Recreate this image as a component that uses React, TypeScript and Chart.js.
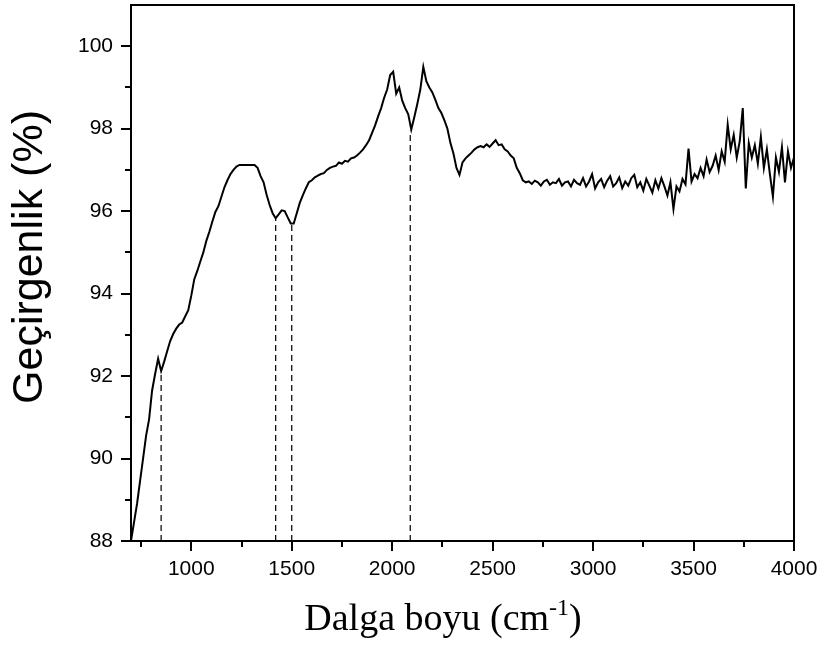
import React, { useEffect, useRef } from 'react';
import { Chart, registerables } from 'chart.js';

Chart.register(...registerables);

// Spectrum sampling grid (cm^-1)
const waveStart = 700;
const waveStep = 15;

// Transmittance (%), one value per grid point 700..4000
const transmittance: number[] = [
  88.0, 88.45, 88.9, 89.45, 90.0, 90.55, 90.95, 91.65, 92.05, 92.42,
  92.12, 92.35, 92.6, 92.85, 93.02, 93.15, 93.25, 93.3, 93.45, 93.6,
  93.95, 94.35, 94.55, 94.78, 95.0, 95.28, 95.5, 95.75, 95.98, 96.12,
  96.35, 96.58, 96.75, 96.9, 97.0, 97.08, 97.12, 97.12, 97.12, 97.12,
  97.12, 97.12, 97.05, 96.85, 96.7, 96.4, 96.15, 95.95, 95.83, 95.92,
  96.02, 96.0, 95.85, 95.7, 95.7, 95.95, 96.2, 96.38, 96.55, 96.7,
  96.75, 96.82, 96.86, 96.9, 96.92, 97.0, 97.05, 97.08, 97.1, 97.18,
  97.15, 97.22, 97.2, 97.28, 97.3, 97.35, 97.42, 97.5, 97.6, 97.72,
  97.9, 98.08, 98.3, 98.5, 98.75, 98.95, 99.3, 99.38, 98.85, 99.0,
  98.68, 98.5, 98.35, 97.98, 98.28, 98.6, 98.95, 99.5, 99.15, 99.0,
  98.88, 98.7, 98.5, 98.38, 98.2, 98.0, 97.65, 97.4, 97.05, 96.88,
  97.18, 97.28, 97.35, 97.42, 97.5, 97.55, 97.58, 97.55, 97.62, 97.56,
  97.64, 97.72, 97.6, 97.62, 97.5, 97.45, 97.35, 97.28, 97.05, 96.92,
  96.75, 96.7, 96.72, 96.66, 96.74, 96.7, 96.62, 96.72, 96.76, 96.64,
  96.7, 96.68, 96.78, 96.62, 96.7, 96.72, 96.6, 96.76, 96.68, 96.64,
  96.8, 96.6, 96.72, 96.9, 96.55, 96.7, 96.78, 96.58, 96.74, 96.85,
  96.6, 96.68, 96.82, 96.56, 96.72, 96.62, 96.8, 96.88, 96.58, 96.7,
  96.5, 96.78, 96.62, 96.45, 96.75, 96.55, 96.8, 96.6, 96.38, 96.7,
  96.05, 96.6, 96.48, 96.78, 96.65, 97.52, 96.72, 96.9, 96.8, 97.05,
  96.85, 97.25, 96.95, 97.1, 97.35, 97.0, 97.45, 97.2, 98.1, 97.5,
  97.85, 97.3, 97.7, 98.5, 96.55, 97.65, 97.3, 97.6, 97.15, 97.8,
  97.05, 97.5, 96.9, 96.35, 97.3, 96.95, 97.55, 96.7, 97.45, 97.05,
  97.3,
];
const wavenumbers = transmittance.map((_, i) => waveStart + i * waveStep);

// Dashed marker lines: position and the transmittance they reach up to
const markerPositions = [850, 1420, 1500, 2090];
const markerTops = [92.12, 95.83, 95.68, 97.95];

// Axes
const xMin = 700;
const xMax = 4000;
const yMin = 88;
const yMax = 101;
const xMajorTicks = [1000, 1500, 2000, 2500, 3000, 3500, 4000];
const xMinorTicks = [750, 1250, 1750, 2250, 2750, 3250, 3750];
const yMajorTicks = [88, 90, 92, 94, 96, 98, 100];
const yMinorTicks = [89, 91, 93, 95, 97, 99];

const xTitleMain = 'Dalga boyu (cm';
const xTitleSup = '-1';
const xTitleEnd = ')';
const yTitle = 'Geçirgenlik (%)';

const framePlugin = {
  id: 'frameAndTitles',
  afterDraw(chart: any) {
    const { ctx, chartArea: a, scales } = chart;
    ctx.save();
    ctx.strokeStyle = '#000';
    ctx.lineWidth = 2;
    ctx.strokeRect(a.left, a.top, a.right - a.left, a.bottom - a.top);
    ctx.beginPath();
    for (const v of xMinorTicks) {
      const px = Math.round(scales.x.getPixelForValue(v));
      ctx.moveTo(px, a.bottom);
      ctx.lineTo(px, a.bottom + 6);
    }
    for (const v of yMinorTicks) {
      const py = Math.round(scales.y.getPixelForValue(v));
      ctx.moveTo(a.left, py);
      ctx.lineTo(a.left - 6, py);
    }
    ctx.stroke();

    // x title with superscript
    ctx.fillStyle = '#000';
    ctx.textBaseline = 'alphabetic';
    ctx.textAlign = 'left';
    const mainFont = "38px 'Liberation Serif', 'Times New Roman', serif";
    const supFont = "24px 'Liberation Serif', 'Times New Roman', serif";
    ctx.font = mainFont;
    const w1 = ctx.measureText(xTitleMain).width;
    const w3 = ctx.measureText(xTitleEnd).width;
    ctx.font = supFont;
    const w2 = ctx.measureText(xTitleSup).width;
    const total = w1 + w2 + w3;
    const cx = 443;
    const baseY = 630;
    const x0 = cx - total / 2;
    ctx.font = mainFont;
    ctx.fillText(xTitleMain, x0, baseY);
    ctx.font = supFont;
    ctx.fillText(xTitleSup, x0 + w1, baseY - 15);
    ctx.font = mainFont;
    ctx.fillText(xTitleEnd, x0 + w1 + w2, baseY);

    // y title
    ctx.translate(30, 257);
    ctx.rotate(-Math.PI / 2);
    ctx.textAlign = 'center';
    ctx.textBaseline = 'middle';
    ctx.font = "43px 'Liberation Sans', Arial, sans-serif";
    ctx.fillText(yTitle, 0, 0);
    ctx.restore();
  },
};

export default function App() {
  const ref = useRef<HTMLCanvasElement>(null);

  useEffect(() => {
    const canvas = ref.current;
    if (!canvas) return;
    const mainData = wavenumbers.map((x, i) => ({ x, y: transmittance[i] }));
    const markerSets = markerPositions.map((p, i) => ({
      label: 'marker' + p,
      data: [
        { x: p, y: yMin },
        { x: p, y: markerTops[i] },
      ],
      borderColor: '#111',
      borderWidth: 1.3,
      borderDash: [6, 4],
      pointRadius: 0,
      fill: false,
    }));
    const tickFont = { family: "'Liberation Sans', Arial, sans-serif", size: 21 };
    const chart = new Chart(canvas, {
      type: 'line',
      data: {
        datasets: [
          {
            label: 'Geçirgenlik',
            data: mainData,
            borderColor: '#000',
            borderWidth: 2,
            pointRadius: 0,
            tension: 0,
            fill: false,
          },
          ...markerSets,
        ] as any,
      },
      options: {
        animation: false,
        responsive: false,
        devicePixelRatio: 1,
        layout: { padding: { left: 0, right: 30, top: 5, bottom: 0 } },
        plugins: { legend: { display: false }, tooltip: { enabled: false } },
        scales: {
          x: {
            type: 'linear',
            min: xMin,
            max: xMax,
            afterBuildTicks: (s: any) => {
              s.ticks = xMajorTicks.map((v) => ({ value: v }));
            },
            afterFit: (s: any) => {
              s.height = 104;
              s.paddingLeft = 0;
              s.paddingRight = 0;
            },
            grid: {
              drawOnChartArea: false,
              drawTicks: true,
              tickLength: 10,
              color: '#000',
              lineWidth: 2,
            },
            border: { display: true, color: '#000', width: 2 },
            ticks: {
              color: '#000',
              font: tickFont,
              padding: 6,
              maxRotation: 0,
              autoSkip: false,
              callback: (v: any) => String(v),
            },
          },
          y: {
            type: 'linear',
            min: yMin,
            max: yMax,
            afterBuildTicks: (s: any) => {
              s.ticks = yMajorTicks.map((v) => ({ value: v }));
            },
            afterFit: (s: any) => {
              s.width = 131;
              s.paddingTop = 0;
              s.paddingBottom = 0;
            },
            grid: {
              drawOnChartArea: false,
              drawTicks: true,
              tickLength: 10,
              color: '#000',
              lineWidth: 2,
            },
            border: { display: true, color: '#000', width: 2 },
            ticks: {
              color: '#000',
              font: tickFont,
              padding: 8,
              autoSkip: false,
              callback: (v: any) => String(v),
            },
          },
        },
      } as any,
      plugins: [framePlugin],
    });
    return () => chart.destroy();
  }, []);

  return (
    <div style={{ position: 'fixed', left: 0, top: 0, width: 824, height: 645, background: '#fff' }}>
      <canvas ref={ref} width={824} height={645} style={{ display: 'block' }} />
    </div>
  );
}
